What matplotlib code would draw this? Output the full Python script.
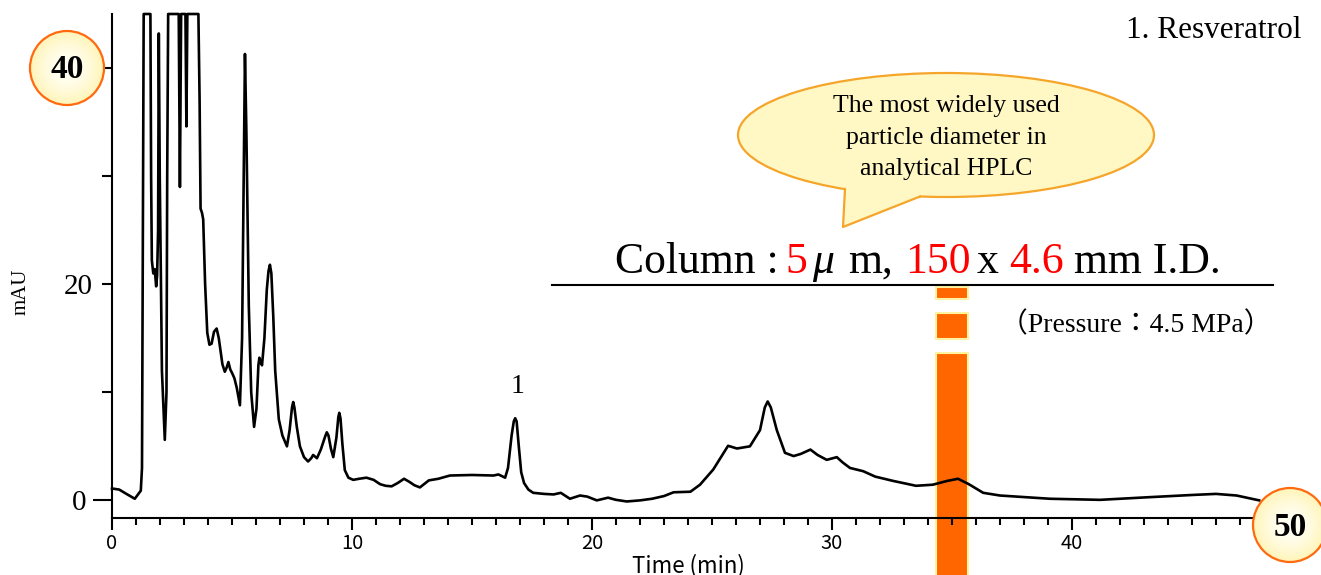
import numpy as np
import matplotlib.pyplot as plt
from matplotlib.patches import Circle, Ellipse, Polygon, Rectangle
from matplotlib.lines import Line2D

W, H = 1321, 575

# chromatogram (time in min, signal in mAU)
time_min = [0.0, 0.3, 0.6, 0.95, 1.1, 1.2, 1.25, 1.28, 1.32, 1.6, 1.63, 1.66, 1.72, 1.78,
            1.84, 1.88, 1.92, 1.95, 1.99, 2.08, 2.2, 2.27, 2.3, 2.34, 2.78, 2.83, 2.88, 3.06,
            3.1, 3.14, 3.6, 3.65, 3.69, 3.75, 3.8, 3.88, 3.97, 4.06, 4.15, 4.25, 4.36, 4.45,
            4.6, 4.7, 4.78, 4.85, 4.93, 5.0, 5.1, 5.2, 5.33, 5.42, 5.5, 5.54, 5.6, 5.7, 5.8,
            5.92, 6.02, 6.1, 6.14, 6.2, 6.25, 6.35, 6.45, 6.52, 6.58, 6.64, 6.72, 6.8, 6.95,
            7.1, 7.29, 7.4, 7.5, 7.55, 7.6, 7.7, 7.83, 8.0, 8.17, 8.3, 8.38, 8.54, 8.7, 8.88,
            8.95, 9.02, 9.12, 9.22, 9.35, 9.43, 9.47, 9.52, 9.6, 9.7, 9.85, 10.05, 10.3, 10.6,
            10.9, 11.17, 11.4, 11.65, 11.9, 12.17, 12.4, 12.6, 12.83, 13.0, 13.2, 13.6, 14.08,
            15.0, 15.9, 16.1, 16.38, 16.5, 16.65, 16.74, 16.8, 16.86, 16.95, 17.05, 17.17,
            17.35, 17.55, 18.0, 18.4, 18.7, 19.08, 19.5, 19.8, 20.2, 20.67, 21.0, 21.45, 22.0,
            22.5, 23.0, 23.4, 24.1, 24.5, 25.05, 25.67, 26.04, 26.58, 27.0, 27.2, 27.32, 27.45,
            27.7, 28.04, 28.4, 28.7, 29.1, 29.4, 29.78, 30.2, 30.45, 30.75, 31.3, 31.8, 32.55,
            33.5, 34.2, 34.8, 35.25, 35.7, 36.3, 37.0, 39.08, 41.17, 43.25, 45.0, 46.0, 46.86,
            47.8]
mau = [1.1, 1.0, 0.6, 0.15, 0.6, 0.9, 3.0, 20.0, 45.0, 45.0, 30.0, 22.2, 21.0, 21.4,
       19.8, 20.8, 25.0, 43.2, 30.0, 12.0, 5.6, 10.0, 30.0, 45.0, 45.0, 29.0, 45.0, 45.0,
       34.6, 45.0, 45.0, 37.0, 27.0, 26.6, 26.0, 20.0, 15.5, 14.4, 14.5, 15.6, 15.9, 15.0,
       12.6, 11.9, 12.3, 12.8, 12.1, 11.8, 11.3, 10.4, 8.8, 15.0, 32.0, 41.3, 34.0, 18.0, 10.0,
       6.8, 8.5, 12.5, 13.2, 12.8, 12.5, 15.0, 19.5, 21.2, 21.8, 21.0, 17.0, 12.0, 7.5,
       6.0, 5.0, 6.5, 8.6, 9.1, 8.6, 6.8, 5.0, 4.0, 3.6, 3.9, 4.2, 3.9, 4.7, 5.9,
       6.3, 6.0, 4.8, 4.0, 5.8, 7.7, 8.1, 7.6, 5.2, 2.8, 2.1, 1.9, 2.0, 2.1,
       1.9, 1.5, 1.35, 1.3, 1.6, 2.0, 1.7, 1.4, 1.2, 1.5, 1.85, 2.0, 2.3,
       2.35, 2.3, 2.4, 2.1, 3.0, 6.0, 7.3, 7.6, 7.3, 5.0, 2.6, 1.6,
       1.0, 0.7, 0.6, 0.55, 0.7, 0.15, 0.45, 0.35, 0.0, 0.25, 0.05, -0.1, 0.0,
       0.15, 0.4, 0.75, 0.8, 1.45, 2.85, 5.05, 4.8, 5.0, 6.5, 8.6, 9.15, 8.6,
       6.5, 4.4, 4.1, 4.3, 4.7, 4.2, 3.75, 4.0, 3.5, 3.0, 2.7, 2.2, 1.8,
       1.35, 1.45, 1.8, 2.0, 1.5, 0.7, 0.45, 0.15, 0.05, 0.3, 0.5, 0.6, 0.45,
       0.0]

x_ticks = [0, 10, 20, 30, 40]
x_labels = ['0', '10', '20', '30', '40']
y_minor = [10, 20, 30, 40]
y_minor_labels = ['', '20', '', '']

serif = ['Liberation Serif', 'DejaVu Serif']
gothic = ['Noto Sans CJK JP', 'DejaVu Sans']

fig = plt.figure(figsize=(W / 100, H / 100), dpi=100)
ax = fig.add_axes([112 / W, 1 - 518 / H, (1264 - 112) / W, (518 - 14) / H])
ov = fig.add_axes([0, 0, 1, 1], zorder=5)
ov.set_xlim(0, W)
ov.set_ylim(H, 0)
ov.axis('off')

ax.plot(time_min, mau, color='black', lw=1.9, clip_on=False, zorder=3)
ax.set_xlim(0, 48)
ax.set_ylim(-1.63, 45)
for s in ['top', 'right']:
    ax.spines[s].set_visible(False)
for s in ['left', 'bottom']:
    ax.spines[s].set_linewidth(1.5)

ax.set_xticks(x_ticks, x_labels, fontfamily=gothic, fontsize=14.5)
ax.set_xticks(np.arange(0, 48, 1), minor=True)
ax.tick_params(axis='x', which='major', length=8.5, width=1.5, pad=2)
ax.tick_params(axis='x', which='minor', length=5, width=1.5)
ax.set_yticks([0], ['0'], fontfamily=serif, fontsize=21)
ax.set_yticks(y_minor, y_minor_labels, minor=True, fontfamily=serif, fontsize=21)
ax.tick_params(axis='y', which='major', length=13.7, width=1.5, pad=5)
ax.tick_params(axis='y', which='minor', length=7.2, width=1.5, pad=6.5)
ax.set_xlabel('Time (min)', fontfamily=gothic, fontsize=16, labelpad=0)

ov.text(21, 292, 'mAU', fontfamily=serif, fontsize=15, rotation=90, ha='center', va='center')
ax.text(16.88, 9.9, '1', fontfamily=serif, fontsize=20, ha='center', va='baseline')
ov.text(1126, 38, '1. Resveratrol', fontfamily=serif, fontsize=22.5, ha='left', va='baseline')

# orange marker bar (behind the trace)
for y0, y1 in [(287, 299), (313, 339), (353, 590)]:
    ax.add_patch(Rectangle((936, y0), 32, y1 - y0, transform=ov.transData, clip_on=False,
                           facecolor='#FF6600', edgecolor='#FFF2A0', lw=1.5, zorder=1))

# speech bubble
ov.add_patch(Ellipse((946, 135), 416, 124, facecolor='#FFF8C4', edgecolor='#F5A52A', lw=1.6))
ov.add_patch(Polygon([(848, 182), (845, 189), (843, 227), (920, 196.5), (916, 189)],
                     closed=True, facecolor='#FFF8C4', edgecolor='none'))
ov.add_line(Line2D([845, 843, 920], [189, 227, 196.5], color='#F5A52A', lw=1.6))
for yb, line in zip([112, 144, 175], ['The most widely used', 'particle diameter in', 'analytical HPLC']):
    ov.text(946, yb, line, fontfamily=serif, fontsize=18.5, ha='center', va='baseline')

# column line of text
pieces = [(615, 'Column :', 'black', 'normal'), (785, '5', 'red', 'normal'),
          (812, '\u03bc', 'black', 'italic'), (848, 'm,', 'black', 'normal'),
          (905, '150', 'red', 'normal'), (977, 'x', 'black', 'normal'),
          (1009, '4.6', 'red', 'normal'), (1074, 'mm I.D.', 'black', 'normal')]
for xp, txt, col, sty in pieces:
    ov.text(xp, 273, txt, color=col, fontfamily=serif, fontsize=31.5, style=sty,
            ha='left', va='baseline')
ov.add_line(Line2D([552, 1273], [285, 285], color='black', lw=1.5))
ov.text(1000, 332, '\uff08Pressure\uff1a4.5 MPa\uff09', fontfamily=serif + ['Noto Sans CJK JP'],
        fontsize=20, ha='left', va='baseline')

# highlighted circles
yy, xx = np.mgrid[-1:1:200j, -1:1:200j]
r = np.clip(np.sqrt(xx ** 2 + yy ** 2), 0, 1)
c0 = np.array([1.0, 1.0, 0.97])
c1 = np.array([1.0, 0.96, 0.72])
grad = c0 + (c1 - c0) * (r[..., None] ** 1.6)
for cx, cy, label in [(67, 68, '40'), (1290, 525, '50')]:
    rad = 37
    im = ov.imshow(grad, extent=(cx - rad, cx + rad, cy + rad, cy - rad), aspect='auto', zorder=2)
    clip = Circle((cx, cy), rad, transform=ov.transData)
    im.set_clip_path(clip)
    ov.add_patch(Circle((cx, cy), rad, facecolor='none', edgecolor='#FF6A10', lw=1.6, zorder=3))
    ov.text(cx, cy + 2, label, fontfamily=serif, fontsize=24, fontweight='bold',
            ha='center', va='center', zorder=4)
ov.set_xlim(0, W)
ov.set_ylim(H, 0)

fig.savefig('out.png', dpi=100)
